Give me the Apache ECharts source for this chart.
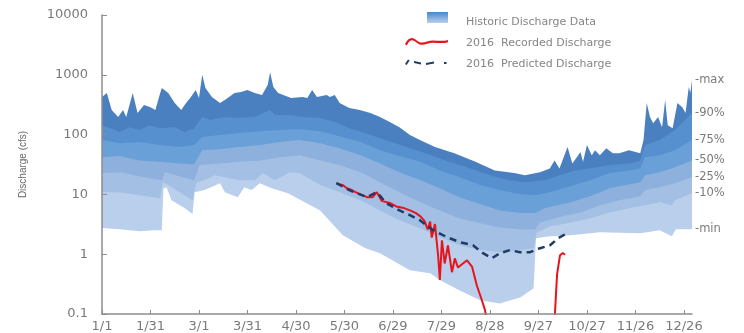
<!DOCTYPE html>
<html>
<head>
<meta charset="utf-8">
<script src="https://cdn.jsdelivr.net/npm/echarts@6/dist/echarts.min.js"></script>
<style>
html,body{margin:0;padding:0;background:#fff;}
#chart{width:744px;height:333px;}
</style>
</head>
<body>
<div id="chart"></div>
<script>
// ---- Data (day of year 2016, discharge in cfs) ----
const tickDays = [0, 30, 60, 90, 120, 150, 180, 210, 240, 270, 300, 330, 360];
const tickLabels = ['1/1', '1/31', '3/1', '3/31', '4/30', '5/30', '6/29', '7/29', '8/28', '9/27', '10/27', '11/26', '12/26'];
const yTickLabels = ['0.1', '1', '10', '100', '1000', '10000'];
const bandLabels = ['-max', '-90%', '-75%', '-50%', '-25%', '-10%', '-min'];

const maxData = [[0,424],[3,495],[6,257],[10,196],[13,257],[15,196],[19,495],[22,229],[26,312],[30,288],[33,257],[36,495],[37,600],[41,495],[45,337],[49,257],[52,337],[55,424],[58,555],[60,408],[62,1000],[64,600],[68,424],[73,337],[76,378],[82,495],[86,514],[90,555],[94.5,495],[99,458],[102.5,673],[104,1100],[106,624],[109,495],[117,408],[124,424],[127,408],[130,555],[133,424],[139,458],[141,424],[144,458],[147,337],[153,278],[159.5,257],[166,229],[172,196],[178,162],[184,133],[190.5,98],[196.7,81],[206,62],[218,49],[231,35],[243,25],[255,22.7],[261.6,21],[271,23.5],[277,27],[280,37],[283,27],[288,62],[291,33],[296,51],[297.6,35],[300,67],[303,45],[305,55],[308,45],[312,59],[316,49],[320,49],[326,55],[333,49],[335,81],[337,337],[339,196],[341,155],[344,196],[346.5,133],[348.4,378],[350,144],[353,128],[356,337],[359,288],[361,229],[363,624],[364,500],[365,817]];
const p90Data = [[0,144],[5,128],[11,110],[17,133],[23,119],[29.5,144],[36,128],[45,133],[51,110],[57,128],[62,196],[67,175],[76,196],[85,189],[94.5,196],[104,257],[107,212],[116,212],[125,196],[135,189],[144,162],[153,128],[163,106],[172,87],[181.5,72],[190.5,59],[200,49],[209,40],[218,33],[227.6,27.5],[240,21],[252,17.3],[261.6,16],[274,17.3],[283,21],[292.6,25],[302,27.5],[314,31],[326.6,33],[333,37],[336,67],[345,81],[354.5,119],[360.7,175],[365,229]];
const p75Data = [[0,81],[11,72],[23,75],[36,67],[48,62],[57,67],[62,91],[73,98],[85,106],[98,114],[110,119],[122,123],[135,114],[147,94],[160,75],[172,55],[184,44],[197,35],[209,25],[221,19.5],[234,14.3],[246,11.8],[259,10.1],[268,9.7],[277,10.9],[290,13.8],[302,17.3],[314,22.7],[326.6,25],[333,27.5],[336,42],[345,45],[354.5,55],[365,81]];
const p50Data = [[0,42],[11,44],[23,37],[36,35],[48,33],[57,32],[62,55],[73,57],[85,62],[98,67],[110,75],[122,81],[135,72],[147,59],[160,45],[172,33],[184,23.5],[197,17.3],[209,12.7],[221,9.0],[234,6.9],[246,5.4],[259,4.9],[268,4.9],[274,5.9],[290,7.4],[302,9.3],[314,12.7],[326.6,14.8],[333,16],[336,21],[345,23.5],[354.5,28.5],[365,37]];
const p25Data = [[0,22.7],[11,23.5],[23,20.2],[37,17.3],[39,23.5],[48,20.2],[57,17.3],[60.5,31],[73,33],[85,35],[98,37],[110,42],[122,45],[135,37],[147,31],[160,23.5],[172,16],[184,10.9],[197,7.4],[209,5.4],[221,4.0],[234,3.3],[246,2.8],[259,2.6],[268,2.6],[271,3.4],[283,4.2],[296,5.0],[308,6.6],[320,8.0],[333,9.3],[336,11.8],[345,13.2],[354.5,15.4],[365,19.5]];
const p10Data = [[0,10.9],[11,10.9],[23,9.7],[36,8.6],[37.5,16],[41,14.3],[48,10.9],[56,8.0],[58.5,16],[63.5,17.3],[70,21],[79,18.7],[85,17.3],[94.5,17.3],[99.5,22.7],[107,17.3],[116,23.5],[122,22.7],[135,14.3],[147,10.9],[160,8.0],[172,5.4],[184,3.7],[197,2.7],[209,1.93],[221,1.41],[234,1.17],[246,1.08],[259,1.17],[267,1.26],[269,2.3],[277,2.9],[290,3.4],[302,4.0],[314,5.0],[326.6,5.9],[336,6.6],[345,7.4],[352.6,6.6],[354.5,8.0],[365,10.5]];
const minData = [[0,2.73],[11,2.62],[23,2.43],[32.5,2.52],[37,2.52],[38,12.7],[40,13],[43,8.0],[51,5.9],[56,4.7],[57.3,10.9],[63.5,11.8],[73,15.4],[76,10.9],[84,9.0],[88,13.2],[92.6,11.8],[97.6,15.4],[105,12.7],[115,10.5],[125.5,7.4],[135,5.4],[149,2.08],[163,1.26],[172,1.04],[190.5,0.54],[203,0.48],[209,0.37],[221,0.25],[234,0.17],[246,0.15],[259,0.19],[267,0.27],[268.5,1.85],[277,2.0],[290,2.08],[308,2.33],[333,2.25],[345,2.52],[352.6,2.0],[355,2.62],[365,2.62]];

const recordedData = [[145,15.4],[149,14.3],[151.5,12.7],[154,12.0],[156.5,11.0],[160.5,9.8],[164,9.0],[167.5,9.0],[170,10.9],[171,10.5],[173,7.8],[178,7.2],[182,6.3],[186,6.0],[190.5,5.4],[194,4.9],[197,4.3],[199.5,3.6],[201.5,2.6],[203,3.5],[204,1.9],[206,3.2],[208,0.9],[209,0.37],[210.3,1.7],[212,0.7],[214,1.4],[216.5,0.5],[218.3,0.85],[220.2,0.6],[223.3,0.7],[225.8,0.79],[228.9,0.62],[231.9,0.3],[235,0.17],[237,0.115],[239,0.05],[260,'-'],[279.6,0.05],[281.5,0.45],[283.3,0.95],[285,1.05],[286.5,0.98]];
const predictedData = [[145,15.4],[153,11.8],[163.8,9.0],[170,10.9],[176,7.1],[184,5.4],[190.5,4.5],[196.7,3.7],[204.8,2.52],[213.4,1.93],[221.4,1.59],[229.5,1.41],[235.7,1.04],[241.2,0.86],[246.2,1.04],[252.4,1.17],[258.6,1.08],[264.8,1.08],[271,1.26],[277.2,1.41],[282.2,1.85],[287.8,2.25]];

// ---- Styling ----
const bandColors = ['#4a80c0', '#5790cf', '#6aa0d8', '#8eb0dc', '#a3bfe3', '#bacfeb', '#ffffff'];
const bandSeriesData = [maxData, p90Data, p75Data, p50Data, p25Data, p10Data, minData];
const bandNames = ['Historic Discharge Data', 'p90', 'p75', 'p50', 'p25', 'p10', 'pmin'];
const grayText = '#7a7a7a';
const axisColor = '#8c8c8c';
const FONT = 'DejaVu Sans';

const bboxPts = 'M0,0 L0.01,0 L0,0.01 Z M56,20 L55.99,20 L56,19.99 Z ';
const waveIcon = 'path://' + bboxPts + 'M0,11 C2,7 4,5 7,5 C10,5 12,9 16,9.5 C20,10 23,7.5 28,7.5 C33,7.5 37,8.5 43,7 L43,9.2 C37,10.7 33,9.7 28,9.7 C23,9.7 20,12.2 16,11.7 C12,11.2 10,7.2 7,7.2 C5,7.2 3.5,9 1.8,12.5 Z';
const dashIcon = 'path://' + bboxPts + 'M0,10 L3,5.5 L4.6,6.5 L1.6,11 Z M9,7 L16,8.5 L16,10.5 L9,9 Z M21,9 L29,7.5 L29,9.5 L21,11 Z M39,8 L41.5,8 L41.5,10 L39,10 Z';
const swatchGradient = { type: 'linear', x: 0, y: 0, x2: 0, y2: 1, colorStops: [{ offset: 0, color: '#4a86c8' }, { offset: 1, color: '#b8d0ef' }] };

const series = bandSeriesData.map((d, i) => ({
  name: bandNames[i],
  type: 'line',
  data: d,
  symbol: 'none',
  showSymbol: false,
  silent: true,
  lineStyle: { width: 0, color: bandColors[i] },
  itemStyle: { color: bandColors[i] },
  areaStyle: { color: bandColors[i], opacity: 1, origin: 'start' },
  endLabel: {
    show: true,
    formatter: bandLabels[i],
    color: grayText,
    fontSize: 11.5,
    fontFamily: FONT,
    distance: 3
  },
  emphasis: { disabled: true },
  z: 2
}));

series.push({
  name: '2016  Recorded Discharge',
  type: 'line',
  data: recordedData,
  symbol: 'none',
  showSymbol: false,
  connectNulls: false,
  silent: true,
  lineStyle: { color: '#e8141c', width: 2 },
  itemStyle: { color: '#e8141c' },
  emphasis: { disabled: true },
  z: 3
});
series.push({
  name: '2016  Predicted Discharge',
  type: 'line',
  data: predictedData,
  symbol: 'none',
  showSymbol: false,
  silent: true,
  lineStyle: { color: '#1e3b66', width: 2.5, type: [7, 5] },
  itemStyle: { color: '#1e3b66' },
  emphasis: { disabled: true },
  z: 4
});

const legendText = { color: '#858585', fontSize: 11, fontFamily: FONT };

const chart = echarts.init(document.getElementById('chart'), null, { renderer: 'canvas' });
chart.setOption({
  animation: false,
  backgroundColor: '#ffffff',
  textStyle: { fontFamily: FONT },
  grid: { left: 102, right: 52, top: 15, bottom: 19, containLabel: false, outerBoundsMode: 'none' },
  graphic: [
    { type: 'rect', left: 427, top: 12, silent: true, z: 100, shape: { width: 21, height: 11 }, style: { fill: swatchGradient } }
  ],
  legend: [
    {
      orient: 'vertical',
      left: 405,
      top: 12,
      padding: 0,
      itemWidth: 56,
      itemHeight: 20,
      itemGap: 1,
      symbolKeepAspect: false,
      selectedMode: false,
      textStyle: legendText,
      data: [
        { name: 'Historic Discharge Data', icon: 'path://' + bboxPts, itemStyle: { borderWidth: 0, color: 'rgba(0,0,0,0)' } },
        { name: '2016  Recorded Discharge', icon: waveIcon, itemStyle: { borderWidth: 0, color: '#e8141c' } },
        { name: '2016  Predicted Discharge', icon: dashIcon, itemStyle: { borderWidth: 0, color: '#1e3b66' } }
      ]
    }
  ],
  xAxis: {
    type: 'value',
    min: 0,
    max: 365,
    z: 10,
    splitLine: { show: false },
    axisLine: { show: true, lineStyle: { color: axisColor, width: 1.5 } },
    axisTick: { show: true, inside: true, length: 4, customValues: tickDays, lineStyle: { color: axisColor, width: 1 } },
    axisLabel: {
      customValues: tickDays,
      formatter: v => tickLabels[tickDays.indexOf(Math.round(v))] || '',
      color: grayText, fontSize: 13, fontFamily: FONT, margin: 6
    }
  },
  yAxis: {
    type: 'log',
    logBase: 10,
    min: 0.1,
    max: 10000,
    z: 10,
    name: 'Discharge (cfs)',
    nameLocation: 'middle',
    nameGap: 74,
    nameTextStyle: { color: '#6a6a6a', fontSize: 10, fontFamily: 'Liberation Sans Narrow, Liberation Sans' },
    splitLine: { show: false },
    axisLine: { show: true, lineStyle: { color: axisColor, width: 1.5 } },
    axisTick: { show: true, inside: true, length: 5, lineStyle: { color: axisColor, width: 1 } },
    axisLabel: {
      formatter: v => yTickLabels[Math.round(Math.log10(v)) + 1] || '',
      color: grayText, fontSize: 13, fontFamily: FONT, margin: 14
    }
  },
  series: series
});
</script>
</body>
</html>
